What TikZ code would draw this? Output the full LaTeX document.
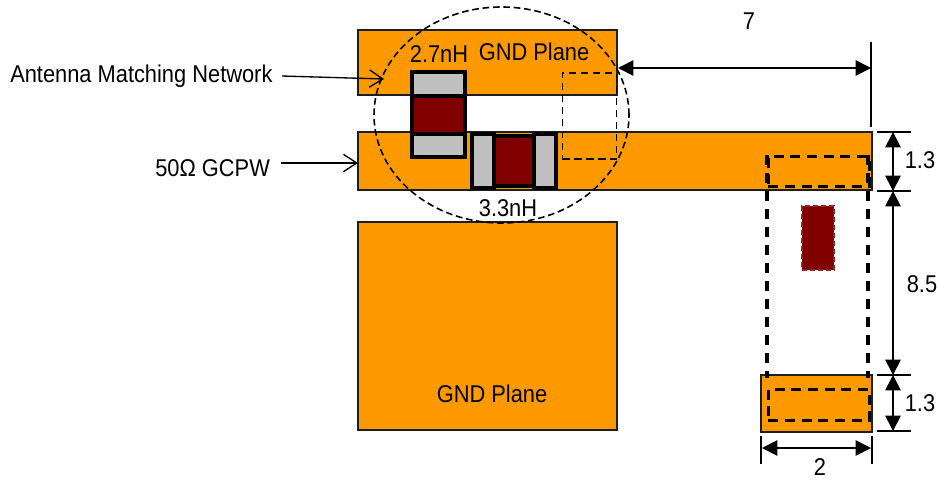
\documentclass[tikz,border=0pt]{standalone}
\usepackage{fontspec}
\setmainfont[FakeStretch=.9]{Liberation Sans}
\usetikzlibrary{arrows.meta,shapes.geometric,positioning}
\definecolor{org}{RGB}{255,153,0}
\definecolor{brn}{RGB}{128,0,0}
\definecolor{gry}{RGB}{192,192,192}
\definecolor{ln}{RGB}{30,30,30}
\tikzset{
  plate/.style={draw=ln,line width=1.5pt,fill=org,inner sep=0pt,outer sep=0pt},
  pad/.style={draw=black,line width=2.6pt,fill=gry,inner sep=0pt,outer sep=0pt},
  body/.style={draw=black,line width=2.6pt,fill=brn,inner sep=0pt,outer sep=0pt},
  lbl/.style={font=\fontsize{18.2}{20}\selectfont,inner sep=0pt},
  dim/.style={draw=black,line width=1.3pt,{Triangle[length=11.5pt,width=11.5pt]}-{Triangle[length=11.5pt,width=11.5pt]}},
  ext/.style={draw=black,line width=1pt},
  lead/.style={draw=black,line width=1pt,-{Straight Barb[length=10pt,width=13pt,line width=1pt]}},
  dsh/.style={draw=black,line width=1.25pt,dash pattern=on 5.5pt off 3.5pt},
  dshb/.style={draw=black,line width=2.2pt,dash pattern=on 7.5pt off 5pt},
  dshside/.style={draw=black,line width=2.4pt,dash pattern=on 7.5pt off 6pt}
}
\begin{document}
\begin{tikzpicture}[x=.75pt,y=-.75pt]
\useasboundingbox (0,0) rectangle (938,480);
\newcommand{\rct}[6]{\node[#1,minimum width=#5*.75pt-#3*.75pt,minimum height=#6*.75pt-#4*.75pt,anchor=north west] (#2) at (#3,#4) {};}
% plates
\rct{plate}{gndtop}{358}{30}{617}{95}
\rct{plate}{gcpw}{358}{132}{872}{190}
\rct{plate}{gndbot}{358}{222}{617}{430}
\rct{plate}{foot}{761}{375}{872}{432}
% dashed feed box
\rct{dsh}{feed}{561.5}{72}{615.5}{158}
% inductor 2.7nH
\rct{pad}{la}{412}{72}{465}{157}
\rct{body}{lb}{412}{96}{465}{134}
% inductor 3.3nH
\rct{pad}{ma}{472}{134}{494}{188}
\rct{pad}{mc}{534}{134}{556}{188}
\rct{body}{mb}{494}{136}{534}{186}
% matching ellipse
\node[ellipse,draw=black,line width=1.2pt,dash pattern=on 5pt off 2.8pt,minimum width=255*.75pt,minimum height=216*.75pt,inner sep=0pt] (net) at (501.5,115) {};
% chip antenna outlines
\rct{dshb}{up}{767}{155}{868}{185}
\rct{dshb}{low}{767}{388}{868}{419}
\coordinate (ulb) at (767,155); \coordinate (llb) at (767,378);
\coordinate (urb) at (868,155); \coordinate (lrb) at (868,378);
\draw[dshside] (ulb) -- (llb);
\draw[dshside] (urb) -- (lrb);
\node[draw=brn!85!white,fill=brn,line width=1pt,dash pattern=on 4pt off 2pt,minimum width=32*.75pt,minimum height=64*.75pt,inner sep=0pt] (chip) at (818,238) {};
% text
\node[lbl] (t27) at (439,54) {2.7nH};
\node[lbl] (tg1) at (534,52) {GND Plane};
\node[lbl] (t33) at (508,208) {3.3nH};
\node[lbl] (tg2) at (492,394) {GND Plane};
\node[lbl,anchor=west] (tamn) at (10,76) {Antenna Matching Network};
\node[lbl,anchor=west] (tcp) at (155,168) {50Ω GCPW};
\node[lbl] (t7) at (749,21) {7};
\node[lbl] (t13a) at (920,160) {1.3};
\node[lbl] (t85) at (922,284) {8.5};
\node[lbl] (t13b) at (920,403) {1.3};
\node[lbl] (t2) at (820,467) {2};
% leaders
\coordinate (l1s) at (282,76); \coordinate (l1e) at (384,79);
\coordinate (l2s) at (281,163); \coordinate (l2e) at (358,163);
\draw[lead] (l1s) -- (l1e);
\draw[lead] (l2s) -- (l2e);
% dimension 7
\coordinate (d7a) at (618,68); \coordinate (d7b) at (871,68);
\draw[dim] (d7a) -- (d7b);
\coordinate (e7a) at (871,42); \coordinate (e7b) at (871,127);
\draw[ext] (e7a) -- (e7b);
% vertical dimensions
\foreach \n/\y in {a/132,b/191,c/375,d/431}{
  \coordinate (ex\n1) at (877,\y); \coordinate (ex\n2) at (911,\y);
  \draw[ext] (ex\n1) -- (ex\n2);
  \coordinate (dv\n) at (893,\y);
}
\draw[dim] (dva) -- (dvb);
\draw[dim] (dvb) -- (dvc);
\draw[dim] (dvc) -- (dvd);
% dimension 2
\coordinate (x1a) at (761,436); \coordinate (x1b) at (761,464);
\coordinate (x2a) at (872,436); \coordinate (x2b) at (872,464);
\draw[ext] (x1a) -- (x1b);
\draw[ext] (x2a) -- (x2b);
\coordinate (d2a) at (762,448); \coordinate (d2b) at (871,448);
\draw[dim] (d2a) -- (d2b);
\end{tikzpicture}
\end{document}
